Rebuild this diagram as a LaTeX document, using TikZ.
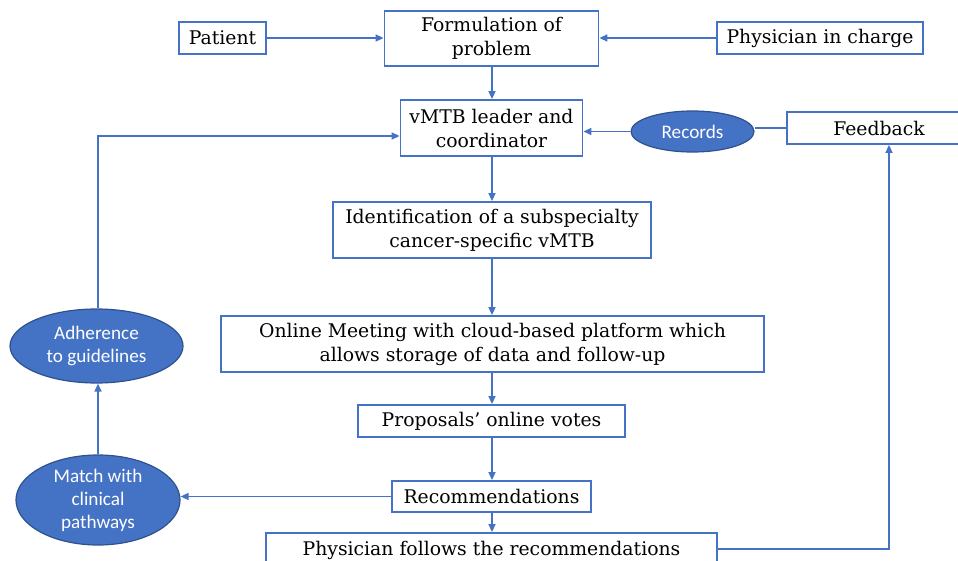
\documentclass[tikz,border=0pt]{standalone}
\usepackage{fontspec}
\setmainfont{DejaVu Serif}
\newfontfamily\calib{Carlito}
\usetikzlibrary{arrows.meta,shapes.geometric}
\definecolor{lb}{HTML}{4472C4}
\definecolor{db}{HTML}{2F528F}
\begin{document}
\begin{tikzpicture}[x=0.5pt,y=-0.5pt,
  box/.style={draw=lb, line width=0.9pt, fill=white, font=\fontsize{9.4}{12}\selectfont, align=center, inner sep=0pt, anchor=center},
  oval/.style={ellipse, fill=lb, draw=db, line width=0.6pt, text=white, font=\calib\fontsize{9.6}{11.5}\selectfont, align=center, inner sep=0pt},
  arr/.style={draw=lb, line width=0.75pt, -{Triangle[length=4pt,width=3.5pt]}},
  ln/.style={draw=lb, line width=0.75pt}]
\useasboundingbox (0,0) rectangle (958,561);
\fill[white] (0,0) rectangle (958,561);
\node[box, minimum width=107pt, minimum height=27.5pt] (form) at (491.5,38.5) {Formulation of\\problem};
\node[box, minimum width=43.5pt, minimum height=16pt] (pat) at (222.5,38) {Patient};
\node[box, minimum width=103pt, minimum height=16pt] (phys) at (820,38) {Physician in charge};
\node[box, minimum width=91pt, minimum height=28pt] (lead) at (491.5,128) {vMTB leader and\\coordinator};
\node[oval, minimum width=61.5pt, minimum height=20.5pt] (rec) at (692.5,131.5) {Records};
\node[box, minimum width=92pt, minimum height=16pt] (fb) at (879,128) {Feedback};
\node[box, minimum width=159pt, minimum height=28pt] (ident) at (492,230) {Identification of a subspecialty\\cancer-specific vMTB};
\node[box, minimum width=271.5pt, minimum height=28pt] (meet) at (492.5,344) {Online Meeting with cloud-based platform which\\allows storage of data and follow-up};
\node[box, minimum width=133.5pt, minimum height=16pt] (prop) at (491.5,421) {Proposals’ online votes};
\node[box, minimum width=99.5pt, minimum height=15.5pt] (recom) at (491.5,496.5) {Recommendations};
\node[box, minimum width=225.5pt, minimum height=17pt] (follow) at (491.5,550) {Physician follows the recommendations};
\node[oval, minimum width=86.5pt, minimum height=37pt] (adh) at (96.5,346) {Adherence\\to guidelines};
\node[oval, minimum width=82pt, minimum height=45pt] (match) at (98,500) {Match with\\clinical\\pathways};
\coordinate (c1) at (889,549);
\coordinate (c2) at (98,136);
\coordinate (cx) at (492,0);
\draw[arr] (pat.east) -- (pat.east -| form.west);
\draw[arr] (phys.west) -- (phys.west -| form.east);
\draw[arr] (cx |- form.south) -- (cx |- lead.north);
\draw[arr] (rec.west) -- (rec.west -| lead.east);
\draw[ln] (fb.west) -- (fb.west -| rec.east);
\draw[arr] (cx |- lead.south) -- (cx |- ident.north);
\draw[arr] (cx |- ident.south) -- (cx |- meet.north);
\draw[arr] (cx |- meet.south) -- (cx |- prop.north);
\draw[arr] (cx |- prop.south) -- (cx |- recom.north);
\draw[arr] (cx |- recom.south) -- (cx |- follow.north);
\draw[arr] (recom.west) -- (recom.west -| match.east);
\draw[arr] (follow.east |- c1) -- (c1) -- (c1 |- fb.south);
\draw[arr] (match.north) -- (match.north |- adh.south);
\draw[arr] (c2 |- adh.north) -- (c2) -- (c2 -| lead.west);
\end{tikzpicture}
\end{document}
